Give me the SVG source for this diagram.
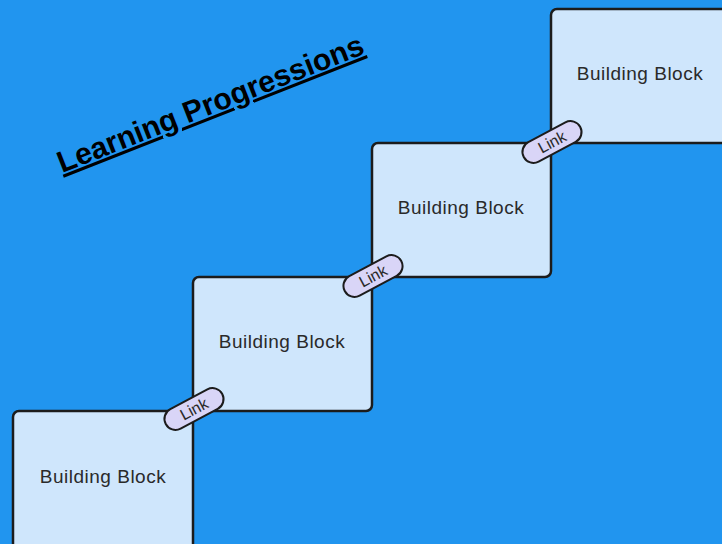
<svg xmlns="http://www.w3.org/2000/svg" width="722" height="544" viewBox="0 0 722 544">
<style>
.box{fill:#cfe6fc;stroke:#1c1c1c;stroke-width:2.5}
.bt{font-family:"Liberation Sans",Arial,sans-serif;font-size:19px;letter-spacing:0.5px;fill:#2a2a2a;text-anchor:middle}
.link{fill:#d9d5f7;stroke:#1c1c1c;stroke-width:2}
.lt{font-family:"Liberation Sans",Arial,sans-serif;font-size:16px;fill:#2a2a2a;text-anchor:middle}
</style>
<rect width="722" height="544" fill="#2195ef"/>
<g id="title"><text x="62" y="173" transform="rotate(-21.5 62 173)" font-family="Liberation Sans,Arial,sans-serif" font-weight="bold" font-size="30" fill="#000" text-decoration="underline">Learning Progressions</text></g>
<g id="block1"><rect class="box" x="13" y="411" width="180" height="140" rx="6"/><text class="bt" x="103" y="483">Building Block</text></g>
<g id="block2"><rect class="box" x="193" y="277" width="179" height="134" rx="6"/><text class="bt" x="282" y="348">Building Block</text></g>
<g id="block3"><rect class="box" x="372" y="143" width="179" height="134" rx="6"/><text class="bt" x="461" y="214">Building Block</text></g>
<g id="block4"><rect class="box" x="551" y="9" width="190" height="134" rx="6"/><text class="bt" x="640" y="80">Building Block</text></g>
<g id="connectors">
<g transform="translate(194 409) rotate(-28)"><rect class="link" x="-32" y="-11" width="64" height="22" rx="11"/><text class="lt" x="0" y="5.5">Link</text></g>
<g transform="translate(373 276) rotate(-28)"><rect class="link" x="-32" y="-11" width="64" height="22" rx="11"/><text class="lt" x="0" y="5.5">Link</text></g>
<g transform="translate(552 142) rotate(-28)"><rect class="link" x="-32" y="-11" width="64" height="22" rx="11"/><text class="lt" x="0" y="5.5">Link</text></g>
</g>
</svg>
